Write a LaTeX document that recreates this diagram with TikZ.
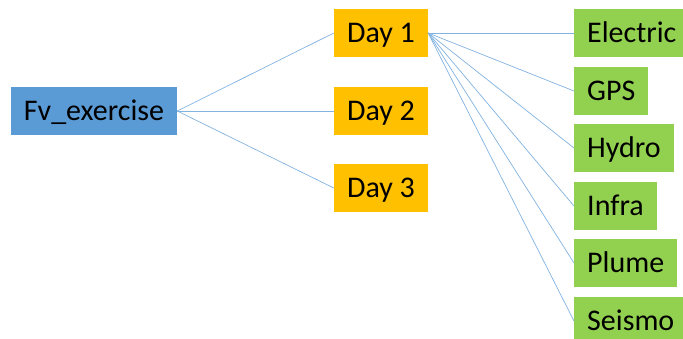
\documentclass[tikz,border=0pt]{standalone}
\usepackage{fontspec}
\setmainfont{Carlito}
\begin{document}
\begin{tikzpicture}[x=1pt,y=-1pt,
	box/.style={minimum height=48pt, inner xsep=13pt, inner ysep=0pt,
		text height=22pt, text depth=3pt, font=\fontsize{30}{32}\selectfont},
	rootbox/.style={box, fill={rgb,255:red,91;green,155;blue,213}},
	daybox/.style={box, minimum width=94pt, fill={rgb,255:red,255;green,192;blue,0}},
	topicbox/.style={box, anchor=west, fill={rgb,255:red,146;green,208;blue,80}},
	link/.style={draw={rgb,255:red,130;green,178;blue,224}, line width=0.7pt}]
	\useasboundingbox (0,0) rectangle (683,338);

	% root
	\node[rootbox] (root) at (94,111) {Fv\_exercise};

	% days
	\node[daybox] (day1) at (381,33) {Day 1};
	\node[daybox] (day2) at (381,111) {Day 2};
	\node[daybox] (day3) at (381,188) {Day 3};

	% topics under day 1
	\node[topicbox] (electric) at (574,33) {Electric};
	\node[topicbox] (gps)      at (574,91) {GPS};
	\node[topicbox] (hydro)    at (574,148) {Hydro};
	\node[topicbox] (infra)    at (574,206) {Infra};
	\node[topicbox] (plume)    at (574,263) {Plume};
	\node[topicbox] (seismo)   at (574,321) {Seismo};

	%% Links %%
	\draw[link] (root.east) -- (day1.west);
	\draw[link] (root.east) -- (day2.west);
	\draw[link] (root.east) -- (day3.west);

	\draw[link] (day1.east) -- (electric.west);
	\draw[link] (day1.east) -- (gps.west);
	\draw[link] (day1.east) -- (hydro.west);
	\draw[link] (day1.east) -- (infra.west);
	\draw[link] (day1.east) -- (plume.west);
	\draw[link] (day1.east) -- (seismo.west);
\end{tikzpicture}
\end{document}
